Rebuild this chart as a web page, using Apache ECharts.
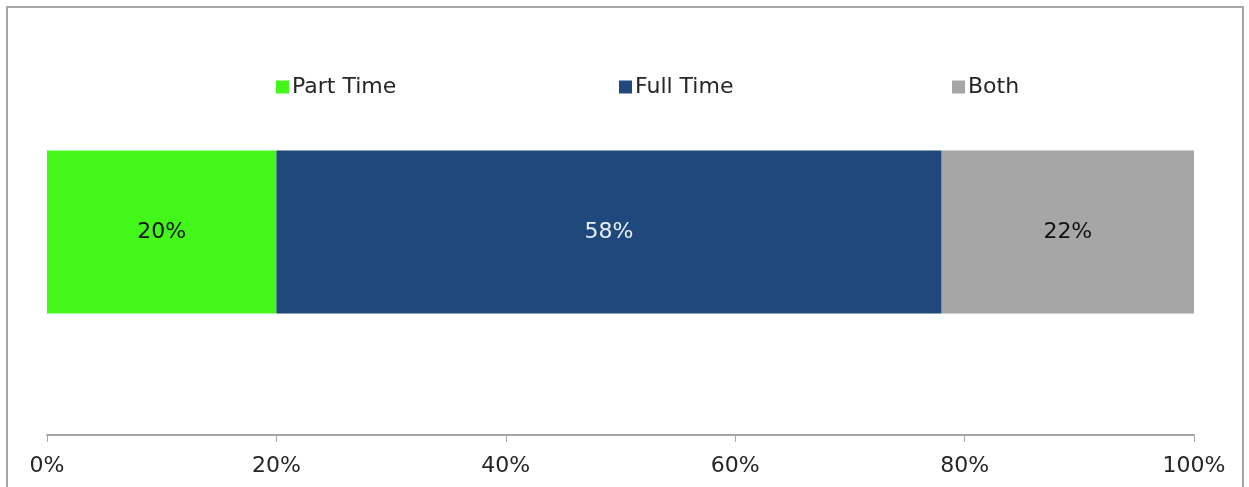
<!DOCTYPE html>
<html>
<head>
<meta charset="utf-8">
<script src="https://cdn.jsdelivr.net/npm/echarts@6/dist/echarts.min.js"></script>
<style>
html,body{margin:0;padding:0;background:#fff;width:1249px;height:487px;overflow:hidden;}
#frame{position:absolute;left:6px;top:6px;width:1238px;height:500px;border:2px solid #a6a6a6;box-sizing:border-box;}
#chart{position:absolute;left:0;top:0;width:1249px;height:487px;}
</style>
</head>
<body>
<div id="frame"></div>
<div id="chart"></div>
<script>
const categories = ['Employment'];
const seriesNames = ['Part Time', 'Full Time', 'Both'];
const partTime = [20];
const fullTime = [58];
const both = [22];
const tickLabels = ['0%', '20%', '40%', '60%', '80%', '100%'];

const colors = ['#43f71a', '#1f497c', '#a6a6a6'];
const labelColors = ['#111111', '#e8eef6', '#111111'];
const values = [partTime, fullTime, both];
const legendLefts = [276, 619, 952];
const font = 'DejaVu Sans';

const chart = echarts.init(document.getElementById('chart'), null, {renderer: 'canvas'});
chart.setOption({
  animation: false,
  textStyle: {fontFamily: font},
  grid: {left: 47, right: 55, top: 29, bottom: 52, containLabel: false},
  legend: seriesNames.map((n, i) => ({
    data: [n],
    left: legendLefts[i],
    top: 76,
    padding: 0,
    itemWidth: 13,
    itemHeight: 13,
    itemGap: 6,
    icon: 'rect',
    textStyle: {fontFamily: font, fontSize: 22, color: '#262626', padding: [0, 0, 0, -2]}
  })),
  xAxis: {
    type: 'value',
    min: 0,
    max: 100,
    interval: 20,
    axisLine: {show: true, lineStyle: {color: '#a6a6a6', width: 2}},
    axisTick: {show: true, length: 7, lineStyle: {color: '#a6a6a6', width: 1}},
    splitLine: {show: false},
    axisLabel: {
      fontFamily: font, fontSize: 22, color: '#262626', margin: 20,
      formatter: v => tickLabels[Math.round(v / 20)]
    }
  },
  yAxis: {
    type: 'category',
    data: categories,
    axisLine: {show: false},
    axisTick: {show: false},
    axisLabel: {show: false}
  },
  series: seriesNames.map((n, i) => ({
    name: n,
    type: 'bar',
    stack: 'total',
    data: values[i],
    barWidth: 163,
    itemStyle: {color: colors[i]},
    label: {
      show: true,
      position: 'inside',
      formatter: p => p.value + '%',
      fontFamily: font,
      fontSize: 22,
      color: labelColors[i]
    }
  }))
});
</script>
</body>
</html>
